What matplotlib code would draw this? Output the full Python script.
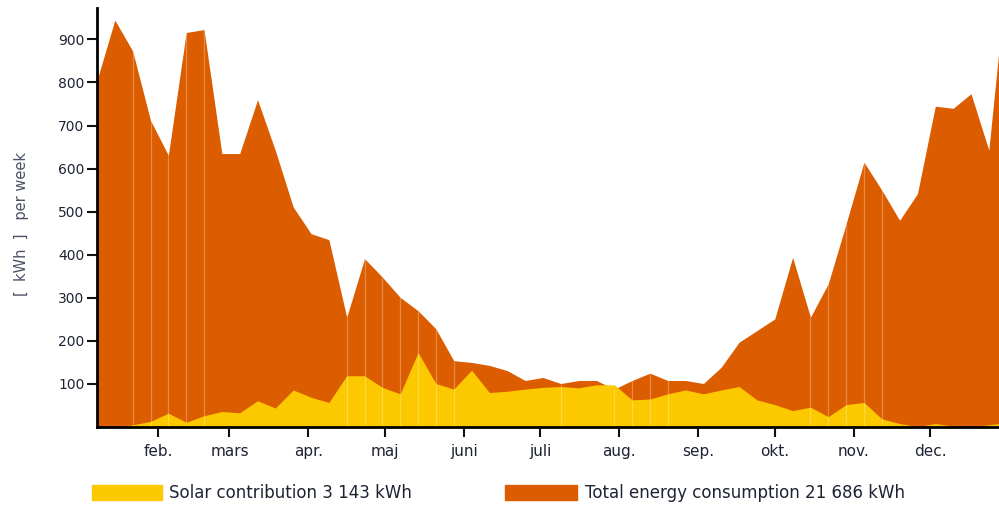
import numpy as np
import matplotlib.pyplot as plt

# weekly values, week k plotted at day 7*k
weeks = np.arange(1, 53)
total = [805, 945, 873, 712, 631, 916, 923, 635, 635, 760,
         642, 511, 449, 435, 255, 391, 348, 301, 270, 228,
         154, 150, 143, 131, 108, 115, 101, 108, 108, 88,
         108, 125, 108, 108, 101, 139, 197, 224, 251, 394,
         255, 333, 472, 615, 550, 480, 542, 745, 740, 774,
         643, 1050]
solar = [0, 0, 5, 13, 32, 11, 26, 36, 33, 61,
         44, 86, 69, 57, 119, 119, 92, 77, 173, 101,
         88, 132, 80, 83, 88, 92, 94, 91, 98, 98,
         63, 65, 77, 86, 77, 86, 94, 63, 52, 38,
         46, 24, 52, 57, 19, 8, 1, 8, 2, 0,
         5, 10]
# weeks where the original shows thin light seams
seam_weeks = [3, 4, 5, 6, 7, 15, 16, 17, 18, 19, 20, 21, 27, 30, 31, 32, 33,
              41, 42, 43, 44, 45]

months = ['feb.', 'mars', 'apr.', 'maj', 'juni', 'juli', 'aug.', 'sep.',
          'okt.', 'nov.', 'dec.']
month_start = [31, 59, 90, 120, 151, 181, 212, 243, 273, 304, 334]

orange = '#DC5D00'
yellow = '#FCC800'
txt = '#1e2233'

days = weeks * 7
fig = plt.figure(figsize=(9.99, 5.09), dpi=100)
ax = fig.add_axes([0.0971, 0.1611, 0.9029, 0.8232])

ax.fill_between(days, 0, total, color=orange, lw=0)
ax.fill_between(days, 0, solar, color=yellow, lw=0)
for k in seam_weeks:
    ax.vlines(k * 7, 0, total[k - 1], color='white', alpha=0.28, lw=0.9)

ax.set_xlim(7, 361)
ax.set_ylim(0, 973)
ax.set_yticks(range(100, 1000, 100))
ax.set_xticks(month_start)
ax.set_xticklabels(months)
ax.tick_params(axis='both', direction='out', width=1.5, length=7,
               labelsize=10, labelcolor=txt, color='#111111')
ax.tick_params(axis='x', pad=5, labelsize=11)
ax.tick_params(axis='y', pad=2)
for s in ['top', 'right']:
    ax.spines[s].set_visible(False)
ax.spines['left'].set_linewidth(2)
ax.spines['bottom'].set_linewidth(2)

fig.text(0.022, 0.56, '[  kWh  ]   per week', rotation=90, ha='center',
         va='center', fontsize=10.5, color='#4a5066')

# legend drawn by hand like the original
fig.patches.append(plt.Rectangle((92 / 999, 1 - 500 / 509), 70 / 999, 15 / 509,
                                 transform=fig.transFigure, color=yellow))
fig.patches.append(plt.Rectangle((505 / 999, 1 - 500 / 509), 72 / 999, 15 / 509,
                                 transform=fig.transFigure, color=orange))
fig.text(169 / 999, 1 - 493 / 509, 'Solar contribution 3 143 kWh',
         va='center', fontsize=12, color=txt)
fig.text(585 / 999, 1 - 493 / 509, 'Total energy consumption 21 686 kWh',
         va='center', fontsize=12, color=txt)

fig.savefig('out.png', dpi=100)
